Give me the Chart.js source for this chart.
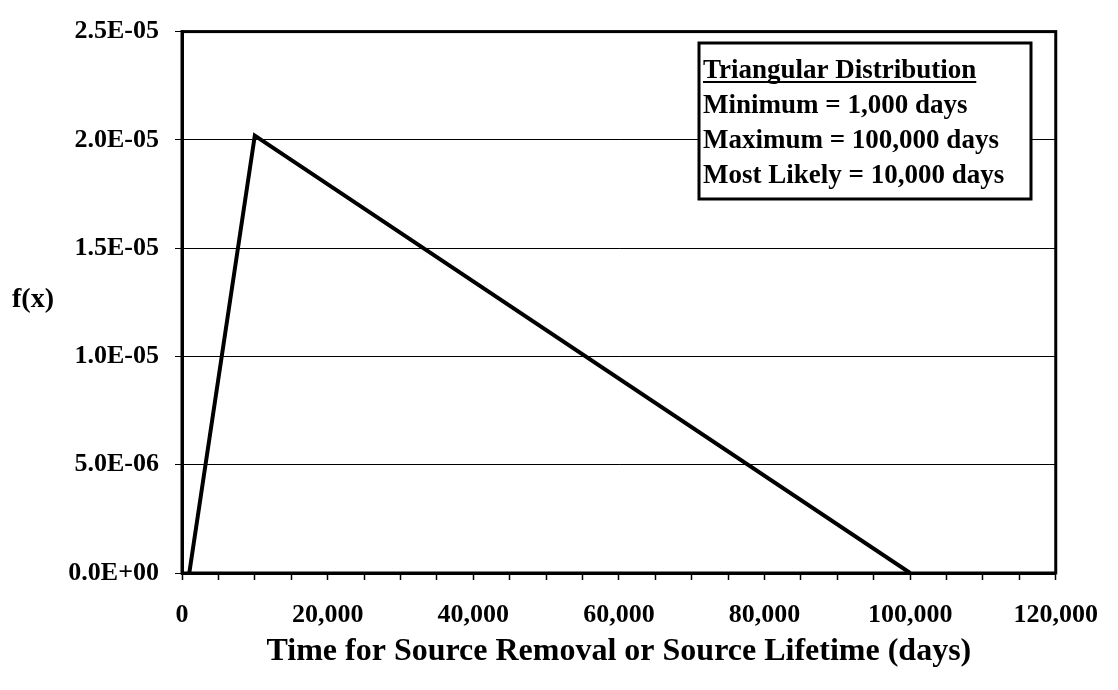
<!DOCTYPE html>
<html>
<head>
<meta charset="utf-8">
<script src="https://cdn.jsdelivr.net/npm/chart.js@4/dist/chart.umd.min.js"></script>
<style>
  html, body { margin: 0; padding: 0; background: #fff; }
  #wrap { width: 1118px; height: 690px; position: relative; }
</style>
</head>
<body>
<div id="wrap"><canvas id="c" width="1118" height="690"></canvas></div>
<script>
// ---- data ----
const xValues = [1000, 10000, 100000];
const fxValues = [0, 2.02e-5, 0];
const xTickLabels = ['0', '20,000', '40,000', '60,000', '80,000', '100,000', '120,000'];
const yTickLabels = ['0.0E+00', '5.0E-06', '1.0E-05', '1.5E-05', '2.0E-05', '2.5E-05'];
const xTitle = 'Time for Source Removal or Source Lifetime (days)';
const yTitle = 'f(x)';
const legendTitle = 'Triangular Distribution';
const legendLines = ['Minimum = 1,000 days', 'Maximum = 100,000 days', 'Most Likely = 10,000 days'];

const FONT = '"Liberation Serif", "Times New Roman", serif';

const extras = {
  id: 'extras',
  afterDraw(chart) {
    const ctx = chart.ctx;
    const a = chart.chartArea;
    ctx.save();
    // plot frame
    ctx.strokeStyle = '#000';
    ctx.lineWidth = 3;
    ctx.strokeRect(a.left, a.top, a.right - a.left, a.bottom - a.top);
    // y title (horizontal)
    ctx.fillStyle = '#000';
    ctx.font = 'bold 28px ' + FONT;
    ctx.textAlign = 'center';
    ctx.textBaseline = 'middle';
    ctx.fillText(yTitle, 33, 300);
    // legend box
    const bx = 699, by = 43, bw = 332, bh = 156;
    ctx.fillStyle = '#fff';
    ctx.fillRect(bx, by, bw, bh);
    ctx.lineWidth = 3;
    ctx.strokeStyle = '#000';
    ctx.strokeRect(bx, by, bw, bh);
    ctx.fillStyle = '#000';
    ctx.font = 'bold 27px ' + FONT;
    ctx.textAlign = 'left';
    ctx.textBaseline = 'alphabetic';
    const tx = bx + 4;
    ctx.fillText(legendTitle, tx, 78);
    const w = ctx.measureText(legendTitle).width;
    ctx.lineWidth = 2;
    ctx.beginPath();
    ctx.moveTo(tx, 82);
    ctx.lineTo(tx + w, 82);
    ctx.stroke();
    legendLines.forEach((t, i) => ctx.fillText(t, tx, 113 + i * 35));
    ctx.restore();
  }
};

new Chart(document.getElementById('c'), {
  type: 'scatter',
  data: {
    datasets: [{
      data: xValues.map((x, i) => ({ x: x, y: fxValues[i] })),
      showLine: true,
      borderColor: '#000',
      borderWidth: 4,
      pointRadius: 0,
      tension: 0,
      fill: false
    }]
  },
  options: {
    responsive: false,
    animation: false,
    layout: { padding: { top: 18, right: 53, left: 0, bottom: 0 } },
    plugins: { legend: { display: false }, tooltip: { enabled: false } },
    scales: {
      x: {
        type: 'linear',
        min: 0, max: 120000,
        afterFit(s) { s.height = 117; },
        border: { display: true, color: '#000', width: 3 },
        grid: { drawOnChartArea: false, drawTicks: true, tickLength: 7, tickColor: '#000', tickWidth: 1.5 },
        ticks: {
          stepSize: 5000, autoSkip: false, maxRotation: 0, minRotation: 0,
          color: '#000', padding: 20,
          font: { family: FONT, size: 26, weight: 'bold' },
          callback: (v) => (v % 20000 === 0 ? xTickLabels[v / 20000] : '')
        },
        title: {
          display: true, text: xTitle, color: '#000',
          font: { family: FONT, size: 32, weight: 'bold' },
          padding: { top: 0, bottom: 19 }
        }
      },
      y: {
        min: 0, max: 2.5e-5,
        afterFit(s) { s.width = 182; },
        border: { display: true, color: '#000', width: 3 },
        grid: { color: '#000', lineWidth: 1, drawTicks: true, tickLength: 7, tickColor: '#000' },
        ticks: {
          stepSize: 5e-6, color: '#000', padding: 16,
          font: { family: FONT, size: 26, weight: 'bold' },
          callback: (v, i) => yTickLabels[i]
        }
      }
    }
  },
  plugins: [extras]
});
</script>
</body>
</html>
